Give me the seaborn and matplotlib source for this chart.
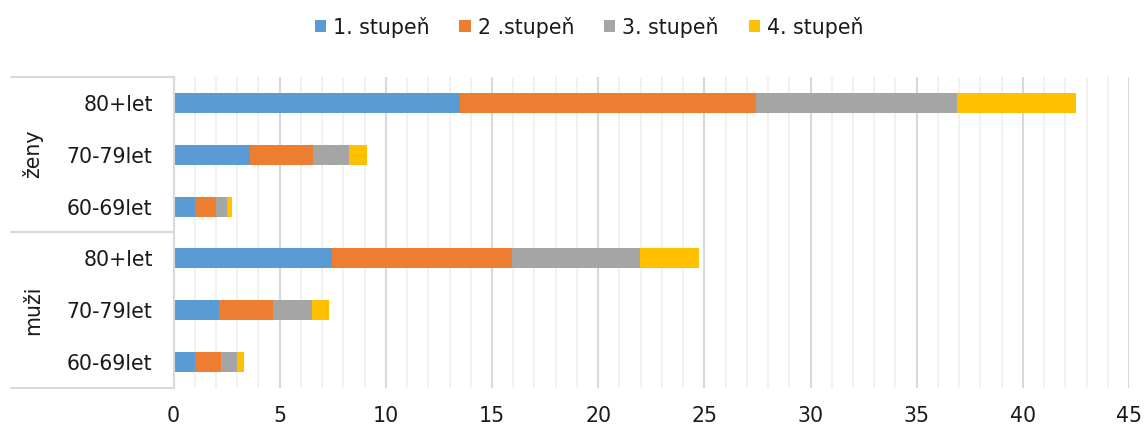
import matplotlib
matplotlib.use("Agg")
import matplotlib.pyplot as plt
from matplotlib.lines import Line2D
from matplotlib.patches import Patch
import numpy as np
import seaborn as sns

# Age bands grouped by sex (top to bottom)
groups = ["ženy", "ženy", "ženy", "muži", "muži", "muži"]
ages = ["80+let", "70-79let", "60-69let", "80+let", "70-79let", "60-69let"]
group_names = ["ženy", "muži"]

series = ["1. stupeň", "2 .stupeň", "3. stupeň", "4. stupeň"]
stage1 = [13.5, 3.6, 1.0, 7.45, 2.13, 1.03]
stage2 = [13.95, 2.95, 0.98, 8.5, 2.56, 1.21]
stage3 = [9.45, 1.7, 0.52, 6.03, 1.81, 0.76]
stage4 = [5.62, 0.86, 0.26, 2.78, 0.83, 0.34]
colors = ["#5B9BD5", "#ED7D31", "#A5A5A5", "#FFC000"]

xticks = list(range(0, 46, 5))

sns.set_theme(style="white")
plt.rcParams["font.family"] = ["DejaVu Sans"]
FS = 14.8

W, H = 1144, 425
fig = plt.figure(figsize=(W / 100, H / 100), dpi=100)
x0, x1, y_top, y_bot = 173.5, 1129.0, 77.0, 388.0
ax = fig.add_axes([x0 / W, 1 - y_bot / H, (x1 - x0) / W, (y_bot - y_top) / H])

keys = [f"{g} {a}" for g, a in zip(groups, ages)]
cum = np.cumsum(np.array([stage1, stage2, stage3, stage4]), axis=0)

# Stacked bars: draw cumulative totals from the last stage to the first
for i in reversed(range(len(series))):
    sns.barplot(x=cum[i], y=keys, order=keys, orient="h", color=colors[i],
                saturation=1, width=0.385, linewidth=0, ax=ax)

ax.set_xlim(0, 45)
ax.set_ylim(5.5, -0.5)
ax.set_xlabel("")
ax.set_ylabel("")
ax.set_xticks(xticks)
ax.set_xticklabels([str(t) for t in xticks], fontsize=FS, color="#1a1a1a")
ax.set_xticks(range(0, 46), minor=True)
ax.set_yticks(range(len(keys)))
ax.set_yticklabels(ages, fontsize=FS, color="#1a1a1a")
ax.tick_params(axis="x", which="both", length=0, pad=13)
ax.tick_params(axis="y", length=0, pad=15)

ax.grid(False)
ax.grid(which="minor", axis="x", color="#efefef", linewidth=1.2)
ax.grid(which="major", axis="x", color="#d9d9d9", linewidth=1.5)
ax.set_axisbelow(True)
for s in ["top", "right", "bottom"]:
    ax.spines[s].set_visible(False)
ax.spines["left"].set_color("#d9d9d9")
ax.spines["left"].set_linewidth(1.5)

# Group brackets on the category axis
for yy in [77, 232, 388]:
    fig.add_artist(Line2D([11 / W, x0 / W], [1 - yy / H, 1 - yy / H],
                          color="#d9d9d9", linewidth=1.5))
for name, yc in zip(group_names, [154, 310]):
    fig.text(33 / W, 1 - yc / H, name, rotation=90, ha="center", va="center",
             fontsize=FS, color="#1a1a1a")

handles = [Patch(facecolor=c, edgecolor="none") for c in colors]
fig.legend(handles, series, loc="center", bbox_to_anchor=(589 / W, 1 - 27 / H),
           ncol=4, frameon=False, fontsize=FS, handlelength=0.55, handleheight=0.55,
           handletextpad=0.34, columnspacing=1.45, labelcolor="#1a1a1a")

fig.savefig("out.png", dpi=100, facecolor="white")
